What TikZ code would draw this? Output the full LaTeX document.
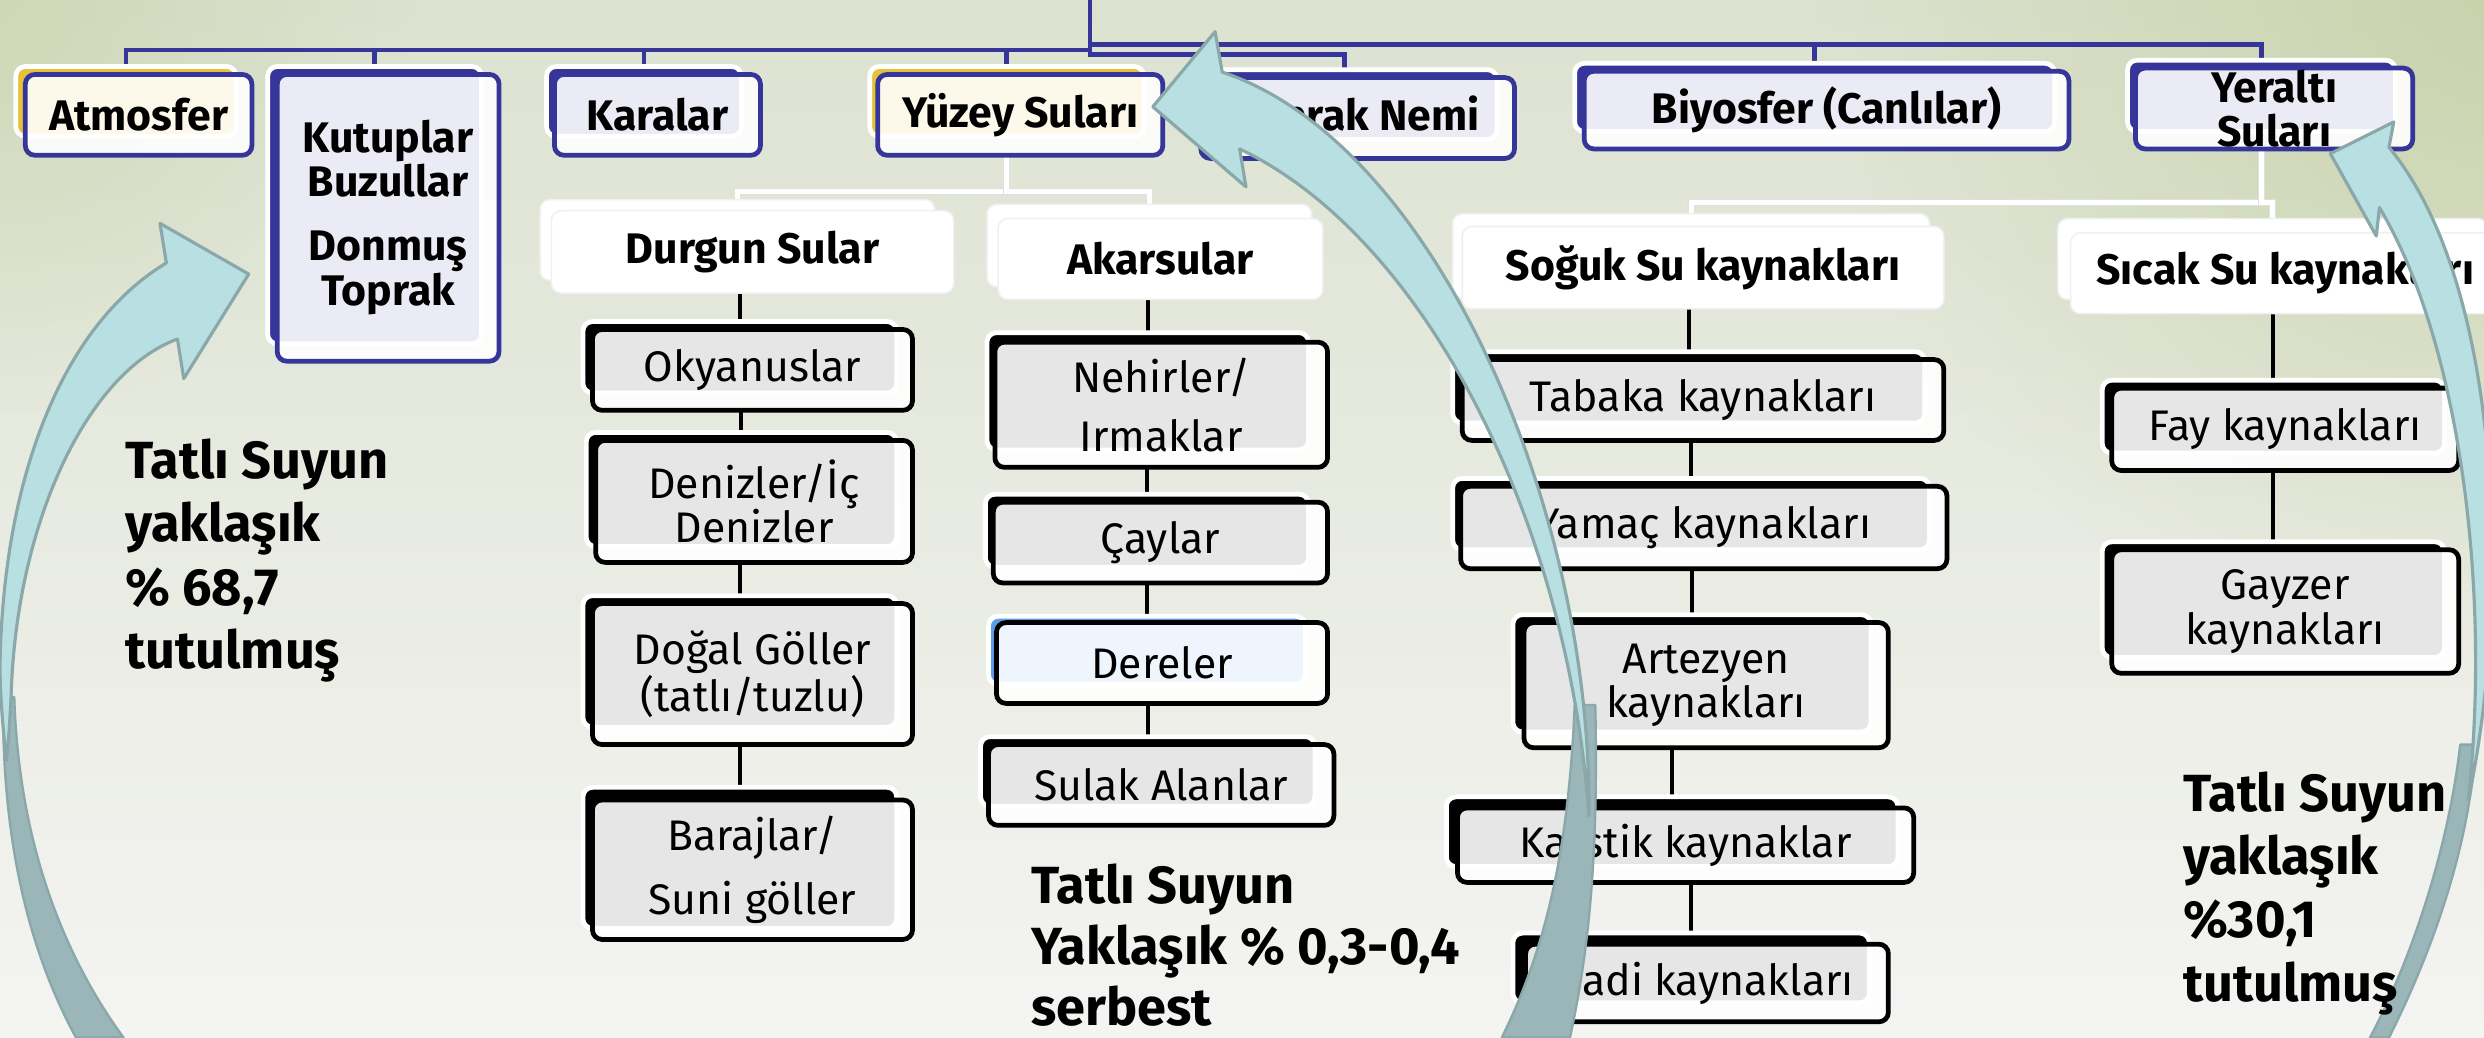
\documentclass[tikz,border=0pt]{standalone}
\usepackage{fontspec}
\setmainfont{Fira Sans}
\usetikzlibrary{fadings}
\definecolor{navy}{HTML}{35359A}
\definecolor{goldy}{HTML}{E6C23A}
\definecolor{skyb}{HTML}{5C9CE8}
\definecolor{arrowfill}{HTML}{B8DFE2}
\definecolor{arrowline}{HTML}{8AA8AA}
\definecolor{arrowdark}{HTML}{9BB6B8}
\definecolor{bgtop}{HTML}{DCE2D0}
\definecolor{bgmid}{HTML}{EEF0EA}
\definecolor{bgbot}{HTML}{F4F4F2}
\definecolor{olivish}{HTML}{C2CEA0}
\tikzfading[name=softglow, inner color=transparent!25, outer color=transparent!100]
\newcommand\boxbold{\fontsize{27}{27.5}\selectfont\bfseries}
\newcommand\boxreg{\fontsize{27}{28}\selectfont}
\newcommand\annfont{\fontsize{33}{40}\selectfont\bfseries}
\newcommand\annfontm{\fontsize{33}{38.5}\selectfont\bfseries}
\newcommand\rectnode[6]{\node[#1, minimum width={#5-#3}, minimum height={#6-#4}] (#2) at ({(#3+#5)/2},{(#4+#6)/2}) {};}
\newcommand\txtnode[7]{\node[#1, minimum width={#5-#3}, minimum height={#6-#4}] (#2) at ({(#3+#5)/2},{(#4+#6)/2}) {#7};}
\pgfdeclarelayer{bg}
\pgfdeclarelayer{conn}
\pgfsetlayers{bg,conn,main}
\begin{document}
\begin{tikzpicture}[x=1pt,y=-1pt,
  every node/.style={inner sep=0pt, outer sep=0pt},
  bk/.style={rectangle, rounded corners=6pt, draw=white, line width=3pt},
  bkY/.style={bk, fill=goldy},
  bkB/.style={bk, fill=navy},
  bkK/.style={bk, fill=black},
  bkL/.style={bk, fill=skyb},
  bkW/.style={rectangle, rounded corners=6pt, fill=white, draw=black!6, line width=1pt},
  fr/.style={rectangle, rounded corners=6pt, line width=3pt, fill=white, fill opacity=0.9, text opacity=1, align=center},
  frB/.style={fr, draw=navy, font=\boxbold},
  frK/.style={fr, draw=black, font=\boxreg},
  frW/.style={rectangle, rounded corners=6pt, fill=white, draw=black!6, line width=1pt, font=\boxbold, align=center},
  con/.style={line width=3pt, draw=navy},
  wcon/.style={draw=black!12, line width=0.8pt, double=white, double distance=3pt},
  kcon/.style={line width=2.5pt, draw=black},
  arr/.style={fill=arrowfill, draw=arrowline, line width=2pt, line join=round},
  arrd/.style={fill=arrowdark, draw=arrowline, line width=1.5pt, line join=round},
  ann/.style={font=\annfont, align=left, anchor=north west}]
\useasboundingbox (0,0) rectangle (1568,655);
\begin{pgfonlayer}{bg}
\shade[top color=bgtop, middle color=bgmid, bottom color=bgbot] (0,0) rectangle (1568,655);
\fill[olivish, path fading=softglow] (1568,0) circle (420);
\fill[olivish!70!bgtop, path fading=softglow] (0,0) circle (260);
\end{pgfonlayer}

% top level
\rectnode{bkY}{atmB}{10}{42}{149}{86}
\txtnode{frB}{atm}{16}{47}{159}{98}{Atmosfer}
\rectnode{bkB}{kutB}{169}{42}{304}{217}
\txtnode{frB}{kut}{175}{47}{315}{228}{Kutuplar\\Buzullar\\[13pt]Donmuş\\Toprak}
\rectnode{bkB}{karB}{345}{42}{468}{86}
\txtnode{frB}{kar}{350}{47}{480}{98}{Karalar}
\rectnode{bkY}{yuzB}{549}{42}{722}{86}
\txtnode{frB}{yuz}{554}{47}{734}{98}{Yüzey Suları}
\rectnode{bkB}{topB}{752}{44}{945}{88}
\txtnode{frB}{top}{758}{49}{956}{100}{Toprak Nemi}
\rectnode{bkB}{biyB}{994}{40}{1297}{83}
\txtnode{frB}{biy}{1000}{45}{1306}{94}{Biyosfer (Canlılar)}
\rectnode{bkB}{yerB}{1343}{38}{1512}{83}
\txtnode{frB}{yer}{1348}{43}{1523}{94}{Yeraltı\\Suları}

% second level
\rectnode{bkW}{durB}{341}{126}{590}{177}
\txtnode{frW}{dur}{348}{133}{602}{185}{Durgun Sular}
\rectnode{bkW}{akaB}{623}{129}{828}{181}
\txtnode{frW}{aka}{630}{138}{835}{189}{Akarsular}
\rectnode{bkW}{sogB}{917}{135}{1218}{188}
\txtnode{frW}{sog}{923}{143}{1227}{195}{Soğuk Su kaynakları}
\rectnode{bkW}{sicB}{1299}{138}{1570}{189}
\txtnode{frW}{sic}{1307}{147}{1578}{198}{Sıcak Su kaynakları}

% third level
\rectnode{bkK}{okyB}{368}{203}{566}{248}
\txtnode{frK}{oky}{374}{208}{576}{259}{Okyanuslar}
\rectnode{bkK}{denB}{370}{273}{566}{345}
\txtnode{frK}{den}{376}{278}{576}{355}{Denizler/İç\\Denizler}
\rectnode{bkK}{dogB}{368}{376}{566}{459}
\txtnode{frK}{dog}{374}{381}{576}{470}{Doğal Göller\\(tatlı/tuzlu)}
\rectnode{bkK}{barB}{368}{497}{566}{586}
\txtnode{frK}{bar}{374}{505}{576}{593}{Barajlar/\\[12pt]Suni göller}
\rectnode{bkK}{nehB}{623}{210}{826}{284}
\txtnode{frK}{neh}{628}{216}{838}{295}{Nehirler/\\[9pt]Irmaklar}
\rectnode{bkK}{cayB}{622}{312}{826}{358}
\txtnode{frK}{cay}{627}{317}{838}{368}{Çaylar}
\rectnode{bkL}{derB}{624}{389}{824}{432}
\txtnode{frK}{der}{629}{393}{838}{444}{Dereler}
\rectnode{bkK}{sulB}{619}{465}{830}{509}
\txtnode{frK}{sul}{624}{470}{842}{521}{Sulak Alanlar}
\rectnode{bkK}{tabB}{917}{222}{1215}{267}
\txtnode{frK}{tab}{923}{227}{1227}{278}{Tabaka kaynakları}
\rectnode{bkK}{yamB}{917}{302}{1218}{347}
\txtnode{frK}{yam}{922}{307}{1229}{359}{Yamaç kaynakları}
\rectnode{bkK}{artB}{955}{388}{1181}{462}
\txtnode{frK}{art}{962}{393}{1192}{472}{Artezyen\\kaynakları}
\rectnode{bkK}{karsB}{913}{503}{1198}{547}
\txtnode{frK}{kars}{920}{510}{1208}{557}{Karstik kaynaklar}
\rectnode{bkK}{vadB}{955}{589}{1180}{633}
\txtnode{frK}{vad}{963}{596}{1192}{645}{Vadi kaynakları}
\rectnode{bkK}{fayB}{1327}{240}{1543}{286}
\txtnode{frK}{fay}{1333}{245}{1552}{297}{Fay kaynakları}
\rectnode{bkK}{gayB}{1327}{342}{1543}{415}
\txtnode{frK}{gay}{1333}{347}{1552}{425}{Gayzer\\kaynakları}

% connectors
\coordinate (root) at (688,0);
\begin{pgfonlayer}{conn}
\draw[con] (root) -- ++(0,31.6) -| (atmB.north);
\draw[con] (root) -- ++(0,31.6) -| (kutB.north);
\draw[con] (root) -- ++(0,31.6) -| (karB.north);
\draw[con] (root) -- ++(0,31.6) -| (yuzB.north);
\draw[con] (root) -- ++(0,34.5) -| (topB.north);
\draw[con] (root) -- ++(0,28) -| (biyB.north);
\draw[con] (root) -- ++(0,28) -| (yerB.north);
\draw[wcon] (yuz.south -| yuzB.south) -- ++(0,23) -| (durB.north);
\draw[wcon] (yuz.south -| yuzB.south) -- ++(0,23) -| (akaB.north);
\draw[wcon] (yer.south -| yerB.south) -- ++(0,34) -| (sogB.north);
\draw[wcon] (yer.south -| yerB.south) -- ++(0,34) -| (sicB.north);
\draw[kcon] (okyB.north |- dur.south) -- (okyB.north);
\draw[kcon] (denB.north |- oky.south) -- (denB.north);
\draw[kcon] (dogB.north |- den.south) -- (dogB.north);
\draw[kcon] (barB.north |- dog.south) -- (barB.north);
\draw[kcon] (nehB.north |- aka.south) -- (nehB.north);
\draw[kcon] (cayB.north |- neh.south) -- (cayB.north);
\draw[kcon] (derB.north |- cay.south) -- (derB.north);
\draw[kcon] (sulB.north |- der.south) -- (sulB.north);
\draw[kcon] (tabB.north |- sog.south) -- (tabB.north);
\draw[kcon] (yamB.north |- tab.south) -- (yamB.north);
\draw[kcon] (artB.north |- yam.south) -- (artB.north);
\draw[kcon] (karsB.north |- art.south) -- (karsB.north);
\draw[kcon] (vadB.north |- kars.south) -- (vadB.north);
\draw[kcon] (fayB.north |- sic.south) -- (fayB.north);
\draw[kcon] (gayB.north |- fay.south) -- (gayB.north);
\end{pgfonlayer}

% curved arrows
\path[arrd] (2,440) .. controls (1,530) and (18,600) .. (48,655) -- (78,655) .. controls (45,610) and (12,540) .. (9,440) -- cycle;
\path[arr] (105,166) -- (101,141) -- (157,173) -- (116,239) -- (112,214)
  .. controls (55,235) and (10,330) .. (7,440)
  .. controls (6,460) and (5,472) .. (4,480)
  .. controls (2,460) and (0,440) .. (0,420)
  .. controls (2,300) and (40,205) .. (105,166) -- cycle;

\path[arrd] (994,445) .. controls (990,540) and (975,600) .. (948,655) -- (991,655) .. controls (1003,600) and (1009,540) .. (1007,445) -- cycle;
\path[arr] (771.5,45.5) -- (767,20) -- (727.7,67.4) -- (786.5,118) -- (782.5,94)
  .. controls (900,150) and (990,330) .. (1003,515)
  .. controls (1005,320) and (905,90) .. (771.5,45.5) -- cycle;

\path[arrd] (1553,470) .. controls (1545,540) and (1520,610) .. (1496,655) -- (1508,655) .. controls (1533,605) and (1558,540) .. (1563,470) -- cycle;
\path[arr] (1508,93) -- (1511,77) -- (1471,97) -- (1500,149) -- (1502,131)
  .. controls (1555,220) and (1572,380) .. (1558,505)
  .. controls (1585,380) and (1580,180) .. (1508,93) -- cycle;

% annotations
\node[ann] (annL) at (79,277) {Tatlı Suyun\\yaklaşık\\\% 68,7\\tutulmuş};
\node[ann, font=\annfontm] (annM) at (651,545) {Tatlı Suyun\\Yaklaşık \% 0,3-0,4\\serbest};
\node[ann] (annR) at (1378,487) {Tatlı Suyun\\yaklaşık\\\%30,1\\tutulmuş};
\end{tikzpicture}
\end{document}
